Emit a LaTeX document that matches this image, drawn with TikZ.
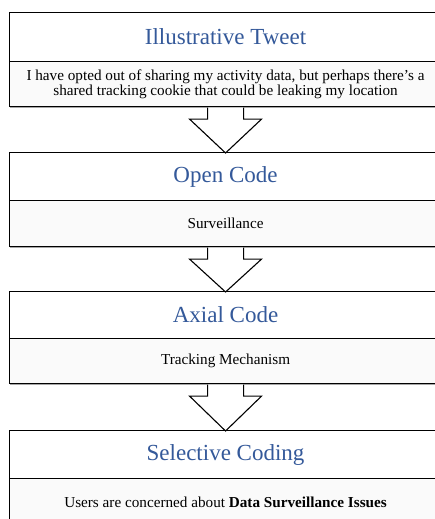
\documentclass[tikz,border=0pt]{standalone}
\usepackage{fontspec}
\setmainfont{Liberation Serif}
\usetikzlibrary{calc,shadows}
\definecolor{headblue}{HTML}{34599A}
\definecolor{bodyfill}{HTML}{FAFAFA}
\begin{document}
\begin{tikzpicture}[x=1pt,y=-1pt,
  boxbase/.style={draw, line width=1.1pt, inner sep=0pt, anchor=north west,
    minimum width=432pt,
    drop shadow={shadow xshift=0pt, shadow yshift=-1.6pt, fill=black!35, opacity=1}},
  titlebox/.style={boxbase, fill=white, text=headblue,
    font=\fontsize{23}{26}\selectfont},
  bodybox/.style={boxbase, fill=bodyfill, align=center,
    font=\fontsize{15.2}{15}\selectfont},
  bigarrow/.style={draw, fill=white, line width=1.1pt, line join=miter}]

\useasboundingbox (0,0) rectangle (435,519);
\clip (0,0) rectangle (435,519);

% stage boxes: heading part and body part
\node[titlebox, minimum height=49pt] (t1) at (9,12) {Illustrative Tweet};
\node[bodybox, minimum height=45pt] (b1) at (9,61)
  {I have opted out of sharing my activity data, but perhaps there’s a\\
   shared tracking cookie that could be leaking my location};

\node[titlebox, minimum height=48pt] (t2) at (9,152) {Open Code};
\node[bodybox, minimum height=46pt] (b2) at (9,200) {Surveillance};

\node[titlebox, minimum height=47pt] (t3) at (9,291) {Axial Code};
\node[bodybox, minimum height=45pt] (b3) at (9,338) {Tracking Mechanism};

\node[titlebox, minimum height=48pt] (t4) at (9,430) {Selective Coding};
\node[bodybox, minimum height=48pt] (b4) at (9,478)
  {Users are concerned about \textbf{Data Surveillance Issues}};

% block arrows between the stages
\foreach \a/\b in {b1/t2, b2/t3, b3/t4} {
  \draw[bigarrow] ($(\a.south)+(-18,0.6)$) -- ($(\a.south)+(-18,12)$)
    -- ($(\a.south)+(-36,12)$) -- ($(\b.north)+(0,1)$)
    -- ($(\a.south)+(36,12)$) -- ($(\a.south)+(18,12)$)
    -- ($(\a.south)+(18,0.6)$);
}
\end{tikzpicture}
\end{document}
